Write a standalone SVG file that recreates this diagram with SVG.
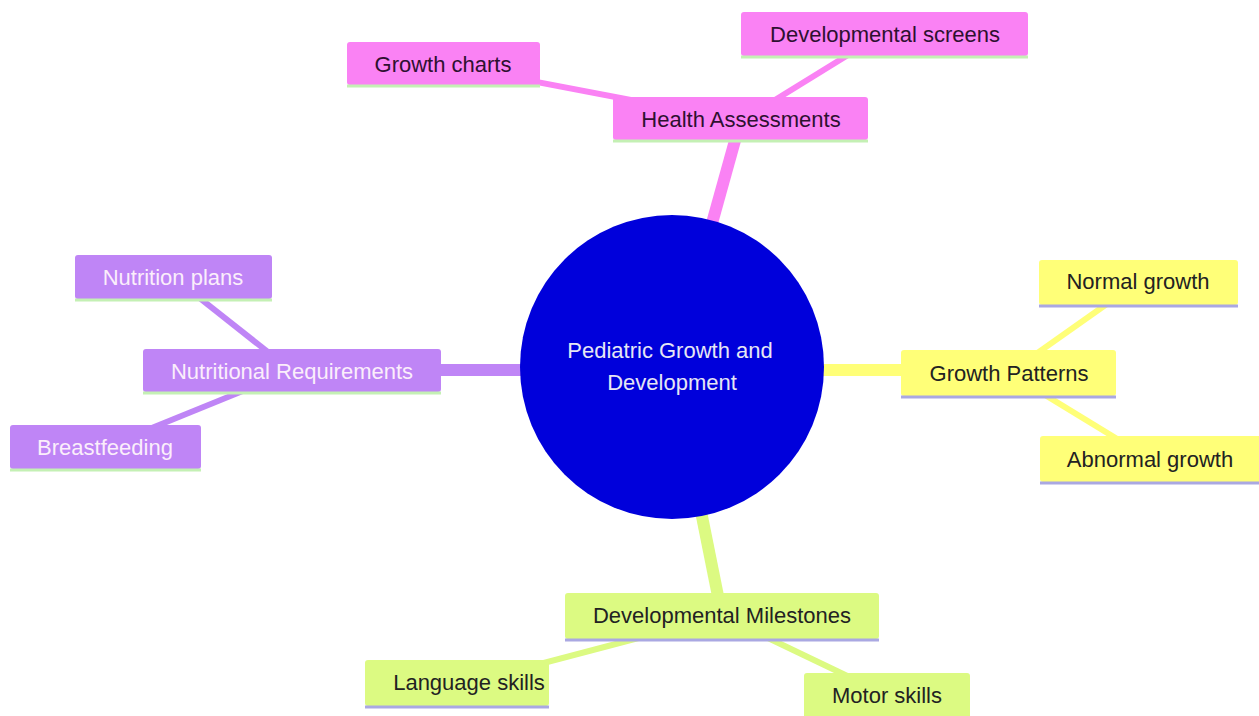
<svg xmlns="http://www.w3.org/2000/svg" width="1259" height="716" viewBox="0 0 1259 716">
<style>
text{font-family:"Liberation Sans",Arial,sans-serif;font-size:22px;text-anchor:middle}
.pink{fill:#fa82f4}.purple{fill:#bf85f6}.yellow{fill:#ffff78}.green{fill:#dcfa82}
.lpink,.lpurple,.lyellow,.lgreen{fill:none;stroke-linecap:butt}
.lpink{stroke:#fa82f4}.lpurple{stroke:#bf85f6}.lyellow{stroke:#ffff78}.lgreen{stroke:#dcfa82}
.main{stroke-width:12}.sub{stroke-width:6}
.ulg{stroke:#c4f0b4;stroke-width:3}.ulb{stroke:#aaa8e2;stroke-width:3}
.dark{fill:#222}.dpink{fill:#2e1030}.light{fill:#fbeefb}
</style>
<rect width="1259" height="716" fill="#fff"/>
<g id="connectors">
<line class="lpink main" x1="672" y1="367" x2="741" y2="119"/>
<line class="lpink sub" x1="443" y1="64" x2="741" y2="121"/>
<line class="lpink sub" x1="741" y1="121" x2="882" y2="34"/>
<line class="lpurple main" x1="672" y1="370" x2="292" y2="370"/>
<line class="lpurple sub" x1="173" y1="277" x2="292" y2="371"/>
<line class="lpurple sub" x1="105" y1="447" x2="292" y2="371"/>
<line class="lyellow main" x1="672" y1="370" x2="1009" y2="370"/>
<line class="lyellow sub" x1="1009" y1="373" x2="1138" y2="282"/>
<line class="lyellow sub" x1="1009" y1="373" x2="1150" y2="459"/>
<line class="lgreen main" x1="672" y1="367" x2="722" y2="616"/>
<line class="lgreen sub" x1="722" y1="616" x2="468" y2="683"/>
<line class="lgreen sub" x1="722" y1="616" x2="887" y2="695"/>
</g>
<g id="root">
<circle cx="672" cy="367" r="152" fill="#0000db"/>
<text x="670" y="358" fill="#e6e6f4">Pediatric Growth and</text>
<text x="672" y="390" fill="#e6e6f4">Development</text>
</g>
<g id="health-assessments">
<rect class="pink" x="613" y="97" width="255" height="43" rx="3"/>
<line class="ulg" x1="613" y1="141" x2="868" y2="141"/>
<text class="dpink" x="741" y="127">Health Assessments</text>
</g>
<g id="growth-charts">
<rect class="pink" x="347" y="42" width="193" height="43" rx="3"/>
<line class="ulg" x1="347" y1="86" x2="540" y2="86"/>
<text class="dpink" x="443" y="72">Growth charts</text>
</g>
<g id="developmental-screens">
<rect class="pink" x="741" y="12" width="287" height="44" rx="3"/>
<line class="ulg" x1="741" y1="57" x2="1028" y2="57"/>
<text class="dpink" x="885" y="42">Developmental screens</text>
</g>
<g id="nutritional-requirements">
<rect class="purple" x="143" y="349" width="298" height="43" rx="3"/>
<line class="ulg" x1="143" y1="393" x2="441" y2="393"/>
<text class="light" x="292" y="379">Nutritional Requirements</text>
</g>
<g id="nutrition-plans">
<rect class="purple" x="75" y="255" width="197" height="44" rx="3"/>
<line class="ulg" x1="75" y1="300" x2="272" y2="300"/>
<text class="light" x="173" y="285">Nutrition plans</text>
</g>
<g id="breastfeeding">
<rect class="purple" x="10" y="425" width="191" height="44" rx="3"/>
<line class="ulg" x1="10" y1="470" x2="201" y2="470"/>
<text class="light" x="105" y="455">Breastfeeding</text>
</g>
<g id="growth-patterns">
<rect class="yellow" x="901" y="350" width="215" height="46" rx="3"/>
<line class="ulb" x1="901" y1="397" x2="1116" y2="397"/>
<text class="dark" x="1009" y="381">Growth Patterns</text>
</g>
<g id="normal-growth">
<rect class="yellow" x="1039" y="260" width="199" height="45" rx="3"/>
<line class="ulb" x1="1039" y1="306" x2="1238" y2="306"/>
<text class="dark" x="1138" y="289">Normal growth</text>
</g>
<g id="abnormal-growth">
<rect class="yellow" x="1040" y="436" width="222" height="46" rx="3"/>
<line class="ulb" x1="1040" y1="483" x2="1259" y2="483"/>
<text class="dark" x="1150" y="467">Abnormal growth</text>
</g>
<g id="developmental-milestones">
<rect class="green" x="565" y="593" width="314" height="46" rx="3"/>
<line class="ulb" x1="565" y1="640" x2="879" y2="640"/>
<text class="dark" x="722" y="623">Developmental Milestones</text>
</g>
<g id="language-skills">
<rect class="green" x="365" y="660" width="184" height="46" rx="3"/>
<line class="ulb" x1="365" y1="707" x2="549" y2="707"/>
<text class="dark" x="469" y="690">Language skills</text>
</g>
<g id="motor-skills">
<rect class="green" x="804" y="673" width="166" height="46" rx="3"/>
<text class="dark" x="887" y="703">Motor skills</text>
</g>
</svg>
